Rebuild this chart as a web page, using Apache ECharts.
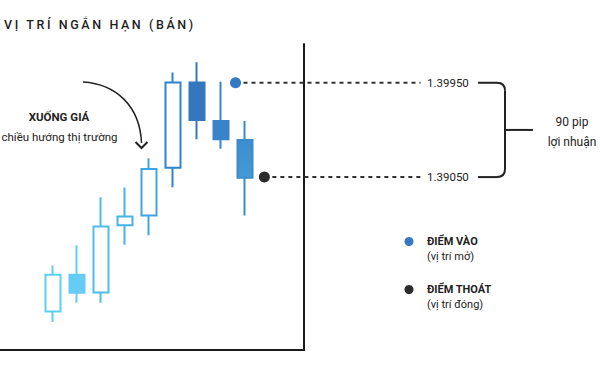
<!DOCTYPE html>
<html><head><meta charset="utf-8">
<script src="https://cdn.jsdelivr.net/npm/echarts@6/dist/echarts.min.js"></script>
<style>html,body{margin:0;padding:0;background:#fff}#c{width:600px;height:370px}</style>
</head><body><div id="c"></div>
<script>
// candle positions (index along the time axis)
const candleX = [1, 2, 3, 4, 5, 6, 7, 8, 9];
// OHLC values
const opens  = [1.37767, 1.38118, 1.37949, 1.38590, 1.38683, 1.39140, 1.39953, 1.39586, 1.39404];
const closes = [1.38118, 1.37946, 1.38578, 1.38673, 1.39126, 1.39953, 1.39595, 1.39411, 1.39044];
const lows   = [1.37668, 1.37850, 1.37850, 1.38405, 1.38494, 1.38954, 1.39411, 1.39321, 1.38683];
const highs  = [1.38207, 1.38399, 1.38858, 1.38951, 1.39229, 1.40049, 1.40145, 1.39959, 1.39586];
const candleColors = ['#5CCFF5', '#66CCF6', '#4DBDED', '#45B2E8', '#3FA5E2', '#2F84CE', '#3377BE', '#3984C8', '#3B8ACC'];
// entry / exit
const entryPoint = [8.6, 1.39950];
const exitPoint = [9.8, 1.39050];
const levelLineEnd = 16.3;
const levelLabels = ['1.39950', '1.39050'];
const profitText = ['90 pip', 'lợi nhuận'];
const titleText = 'VỊ TRÍ NGẮN HẠN (BÁN)';
const noteText = ['XUỐNG GIÁ', 'chiều hướng thị trường'];
const legendTexts = [['ĐIỂM VÀO', '(vị trí mở)'], ['ĐIỂM THOÁT', '(vị trí đóng)']];

const FONT = 'Roboto';
const chart = echarts.init(document.getElementById('c'), null, {renderer: 'svg'});

const candleData = candleX.map((x, i) => {
  const c = candleColors[i];
  const bull = closes[i] > opens[i];
  let fill = c;
  if (i === 8) {
    fill = new echarts.graphic.LinearGradient(0, 0, 0, 1, [{offset: 0, color: '#3A88CB'}, {offset: 1, color: '#4BA5DD'}]);
  }
  return {
    value: [x, opens[i], closes[i], lows[i], highs[i]],
    itemStyle: bull
      ? {color: '#ffffff', borderColor: c}
      : {color0: fill, borderColor0: c}
  };
});

const levels = [[entryPoint, '#333'], [exitPoint, '#333']];

const option = {
  animation: false,
  grid: {left: 0, right: 296, top: 44, bottom: 20},
  xAxis: {
    type: 'value', min: -1.2, max: 11.45,
    axisLine: {show: true, onZero: false, lineStyle: {color: '#1a1a1a', width: 2}},
    axisTick: {show: false}, axisLabel: {show: false}, splitLine: {show: false}
  },
  yAxis: {
    type: 'value', position: 'right', min: 1.374, max: 1.4032, scale: true,
    axisLine: {show: true, onZero: false, lineStyle: {color: '#1a1a1a', width: 2}},
    axisTick: {show: false}, axisLabel: {show: false}, splitLine: {show: false}
  },
  title: {
    text: titleText, left: -1, top: 13,
    textStyle: {fontFamily: FONT, fontSize: 12.5, fontWeight: 500, color: '#1e1e1e'}
  },
  series: [
    {
      type: 'candlestick',
      dimensions: ['x', 'open', 'close', 'lowest', 'highest'],
      encode: {x: 0, y: [1, 2, 3, 4]},
      barWidth: 16,
      itemStyle: {borderWidth: 2},
      data: candleData
    },
    {
      type: 'custom', clip: false, silent: true, z: 1,
      data: levels.map(l => l[0]),
      renderItem: (params, api) => {
        const p0 = api.coord([api.value(0), api.value(1)]);
        const p1 = api.coord([levelLineEnd, api.value(1)]);
        return {type: 'line', shape: {x1: p0[0], y1: p0[1], x2: p1[0], y2: p1[1]},
          style: {stroke: '#333', lineWidth: 2, lineDash: [4, 4]}};
      }
    },
    {
      type: 'scatter', clip: false, symbolSize: 11, z: 5,
      itemStyle: {opacity: 1},
      data: [{value: entryPoint, itemStyle: {color: '#3479C2', opacity: 1}}, {value: exitPoint, itemStyle: {color: '#2b2b2b', opacity: 1}}]
    }
  ]
};
chart.setOption(option);

const yTop = chart.convertToPixel({yAxisIndex: 0}, entryPoint[1]);
const yBot = chart.convertToPixel({yAxisIndex: 0}, exitPoint[1]);
const yMid = (yTop + yBot) / 2;
const bx0 = 478, bx = 505, r = 8;
const txt = (x, y, t, opt) => ({type: 'text', x, y, style: Object.assign({text: t, fontFamily: FONT, fontSize: 12, fill: '#222', verticalAlign: 'middle'}, opt)});
const ln = {stroke: '#222', lineWidth: 2, fill: null};

chart.setOption({
  graphic: [
    txt(427, yTop, levelLabels[0], {fontSize: 11.5}),
    txt(427, yBot, levelLabels[1], {fontSize: 11.5}),
    {type: 'polyline', shape: {points: [[bx0, yTop], [bx - r, yTop]]}, style: ln},
    {type: 'bezierCurve', shape: {x1: bx - r, y1: yTop, cpx1: bx, cpy1: yTop, x2: bx, y2: yTop + r}, style: ln},
    {type: 'polyline', shape: {points: [[bx, yTop + r], [bx, yBot - r]]}, style: ln},
    {type: 'bezierCurve', shape: {x1: bx, y1: yBot - r, cpx1: bx, cpy1: yBot, x2: bx - r, y2: yBot}, style: ln},
    {type: 'polyline', shape: {points: [[bx - r, yBot], [bx0, yBot]]}, style: ln},
    {type: 'polyline', shape: {points: [[bx, yMid], [533, yMid]]}, style: ln},
    txt(572, yMid - 8, profitText[0], {align: 'center'}),
    txt(572, yMid + 12, profitText[1], {align: 'center'}),
    txt(59, 117, noteText[0], {align: 'center', fontWeight: 'bold', fontSize: 11.5}),
    txt(59.5, 136.5, noteText[1], {align: 'center', fontSize: 11.5}),
    {type: 'bezierCurve', shape: {x1: 83, y1: 82, cpx1: 116, cpy1: 84, cpx2: 140, cpy2: 106, x2: 141.5, y2: 143}, style: {stroke: '#222', lineWidth: 1.5, fill: null}},
    {type: 'polyline', shape: {points: [[135.5, 142], [141.5, 148], [147.5, 142]]}, style: ln},
    {type: 'circle', shape: {cx: 409, cy: 241.5, r: 4.5}, style: {fill: '#3479C2'}},
    {type: 'circle', shape: {cx: 409, cy: 289.5, r: 4.5}, style: {fill: '#2b2b2b'}},
    txt(427, 241, legendTexts[0][0], {fontWeight: 'bold', fontSize: 11}),
    txt(427, 256, legendTexts[0][1], {fontSize: 11}),
    txt(427, 289, legendTexts[1][0], {fontWeight: 'bold', fontSize: 11}),
    txt(427, 304, legendTexts[1][1], {fontSize: 11})
  ]
});

function spaceTitle() {
  document.querySelectorAll('#c text').forEach(t => {
    if (t.textContent === titleText) t.setAttribute('letter-spacing', '2.6');
  });
}
spaceTitle();
chart.on('finished', spaceTitle);
chart.on('rendered', spaceTitle);
</script></body></html>
